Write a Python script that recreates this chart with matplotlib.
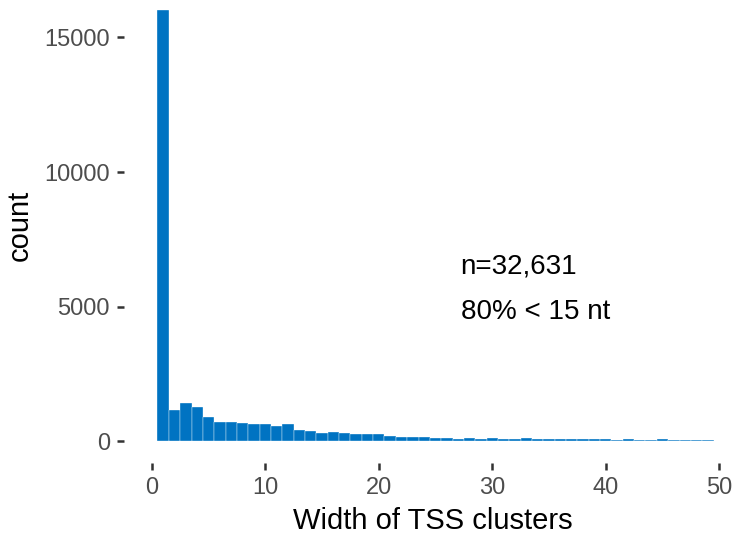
import numpy as np
import matplotlib
matplotlib.use("Agg")
import matplotlib.pyplot as plt

plt.rcParams['font.family'] = ['Liberation Sans', 'DejaVu Sans']

# cluster width (nt), one bin per integer
widths = np.arange(1, 50)
counts = [16020, 1177, 1436, 1288, 917, 731, 731, 694, 657, 657,
          583, 657, 434, 397, 323, 335, 298, 261, 261, 261,
          212, 174, 174, 174, 137, 137, 100, 137, 100, 137,
          100, 100, 137, 100, 100, 100, 100, 100, 100, 100,
          63, 100, 63, 63, 100, 63, 63, 63, 63]

x_ticks = [0, 10, 20, 30, 40, 50]
y_ticks = [0, 5000, 10000, 15000]
notes = ["n=32,631", "80% < 15 nt"]

fig = plt.figure(figsize=(7.35, 5.36), dpi=100)
ax = fig.add_axes([0.1687, 0.1362, 0.840, 0.8857])

ax.bar(widths, counts, width=1.0, color='#0073C2', edgecolor='white', linewidth=0.25)

ymax = max(counts)
ax.set_ylim(-0.05 * ymax, 1.05 * ymax)
ax.set_xlim(-2.45, 51.95)

ax.set_xticks(x_ticks)
ax.set_yticks(y_ticks)
for s in ax.spines.values():
    s.set_visible(False)
ax.tick_params(axis='both', length=5, width=1.8, color='#333333',
               labelsize=17, labelcolor='#4D4D4D', pad=5)

ax.set_xlabel("Width of TSS clusters", fontsize=21, labelpad=6)
ax.set_ylabel("count", fontsize=21, labelpad=8)

ax.text(27.2, 6485, notes[0], fontsize=20, va='center', ha='left')
ax.text(27.2, 4815, notes[1], fontsize=20, va='center', ha='left')

fig.savefig("out.png", dpi=100)
